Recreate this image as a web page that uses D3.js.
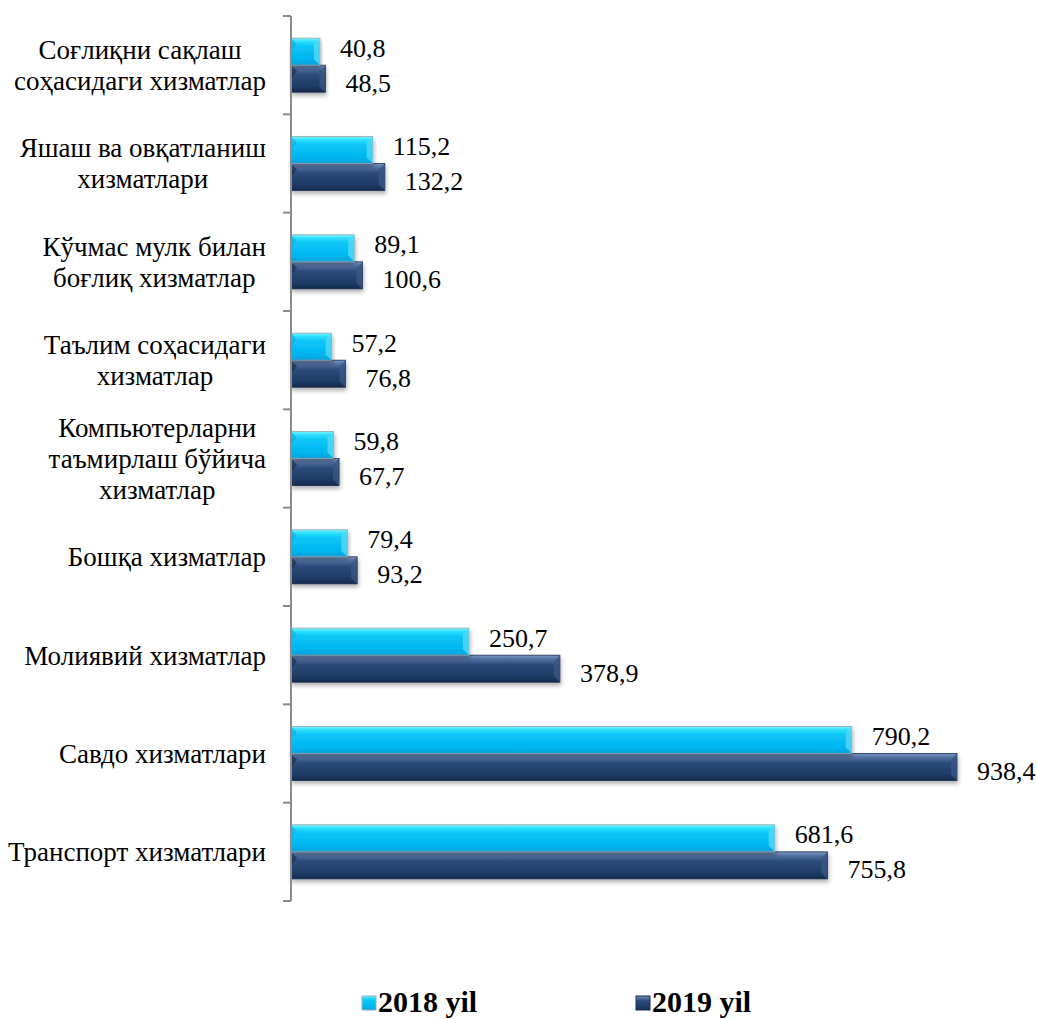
<!DOCTYPE html>
<html><head><meta charset="utf-8">
<script src="https://cdn.jsdelivr.net/npm/d3@7"></script>
<style>body{margin:0;background:#fff}svg{display:block}
.ser{font-family:"Liberation Serif"}
</style>
</head><body>
<svg id="c" width="1037" height="1019"></svg>
<script>
const categories = [
  ["Соғлиқни сақлаш","соҳасидаги хизматлар"],
  ["Яшаш ва овқатланиш","хизматлари"],
  ["Кўчмас мулк билан","боғлиқ хизматлар"],
  ["Таълим соҳасидаги","хизматлар"],
  ["Компьютерларни","таъмирлаш бўйича","хизматлар"],
  ["Бошқа хизматлар"],
  ["Молиявий хизматлар"],
  ["Савдо хизматлари"],
  ["Транспорт хизматлари"]
];
const series = ["2018 yil","2019 yil"];
const values2018 = [40.8,115.2,89.1,57.2,59.8,79.4,250.7,790.2,681.6];
const values2019 = [48.5,132.2,100.6,76.8,67.7,93.2,378.9,938.4,755.8];
const valueLabels2018 = ["40,8","115,2","89,1","57,2","59,8","79,4","250,7","790,2","681,6"];
const valueLabels2019 = ["48,5","132,2","100,6","76,8","67,7","93,2","378,9","938,4","755,8"];

const FONT = "Liberation Serif";
const svg = d3.select("#c");
const defs = svg.append("defs");
function grad(id, stops){
  const g = defs.append("linearGradient").attr("id",id).attr("x1",0).attr("y1",0).attr("x2",0).attr("y2",1);
  stops.forEach(s=>g.append("stop").attr("offset",s[0]).attr("stop-color",s[1]));
}
grad("g18",[[0,"#7ff4ff"],[0.12,"#2fe0ff"],[0.3,"#0cc6f7"],[0.8,"#00b4ef"],[1,"#0a9fd6"]]);
grad("g19",[[0,"#7d97c0"],[0.12,"#5876a6"],[0.35,"#2c4b7a"],[0.8,"#1e3a64"],[1,"#152a4b"]]);
const f = defs.append("filter").attr("id","sh").attr("x","-5%").attr("y","-20%").attr("width","115%").attr("height","160%");
f.append("feDropShadow").attr("dx",1).attr("dy",3).attr("stdDeviation",2).attr("flood-color","#000").attr("flood-opacity",0.3);

const idx = d3.range(categories.length);
const y = d3.scaleBand().domain(idx).range([16, 901]).paddingInner(0.45).paddingOuter(0.225);
const ys = d3.scaleBand().domain(series).range([0, y.bandwidth()]);
const x = d3.scaleLinear().domain([0, 938.4]).range([291, 957]);

const colors = {"2018 yil":"url(#g18)","2019 yil":"url(#g19)"};
const data = [];
idx.forEach(i=>{
  data.push({i, s:series[0], v:values2018[i], lab:valueLabels2018[i]});
  data.push({i, s:series[1], v:values2019[i], lab:valueLabels2019[i]});
});

const barG = svg.append("g");
const order = data.slice().sort((a,b)=> (a.s===series[1]? -1:1) - (b.s===series[1]? -1:1));
order.forEach(d=>{
  const by = y(d.i)+ys(d.s), bh = ys.bandwidth(), bx = x(0), bw = x(d.v)-x(0);
  const g = barG.append("g");
  g.append("rect").attr("x",bx).attr("y",by).attr("width",bw).attr("height",bh)
    .attr("fill",colors[d.s]).attr("filter","url(#sh)")
    .attr("stroke", d.s===series[0] ? "#9aa6b0" : "#1a2f52").attr("stroke-width",0.8);
  const bev = Math.min(6, bw/3);
  g.append("polygon").attr("points",[[bx+bw-bev,by+bev],[bx+bw,by],[bx+bw,by+bh],[bx+bw-bev,by+bh-bev]].map(p=>p.join(",")).join(" "))
    .attr("fill", d.s===series[0] ? "#57d8f5" : "#3a5683").attr("opacity",0.8);
  g.append("polygon").attr("points",[[bx,by],[bx+bev,by+bev],[bx,by+bh/2]].map(p=>p.join(",")).join(" "))
    .attr("fill", d.s===series[0] ? "#14a8dc" : "#142846").attr("opacity",0.6);
});

svg.append("g").selectAll("text").data(data).join("text")
  .attr("class","ser").attr("font-family",FONT).style("font-family",FONT)
  .attr("x", d=> x(d.v) + 20)
  .attr("y", d=> y(d.i)+ys(d.s)+ys.bandwidth()/2 + (d.s===series[0] ? -4 : 4))
  .attr("dy","0.35em")
  .attr("font-size",26).attr("fill","#000")
  .text(d=>d.lab);

const ax = svg.append("g").attr("stroke","#8c8c8c").attr("stroke-width",2);
ax.append("line").attr("x1",x(0)).attr("x2",x(0)).attr("y1",y.range()[0]).attr("y2",y.range()[1]);
d3.range(categories.length+1).forEach(k=>{
  const ty = y.range()[0] + k*y.step();
  ax.append("line").attr("x1",x(0)-8).attr("x2",x(0)).attr("y1",ty).attr("y2",ty);
});

const lh = 31;
idx.forEach(i=>{
  const lines = categories[i];
  const t = svg.append("text").attr("class","ser").attr("font-family",FONT).style("font-family",FONT)
    .attr("font-size",27).attr("fill","#000").attr("text-anchor","middle");
  const cy = y(i)+y.bandwidth()/2;
  lines.forEach((l,k)=>{
    t.append("tspan").attr("x",0).attr("y", cy + (k-(lines.length-1)/2)*lh).attr("dy","0.35em").text(l);
  });
  let maxW = 0;
  t.selectAll("tspan").each(function(){ maxW = Math.max(maxW, this.getComputedTextLength()); });
  const cx = 266 - maxW/2;
  t.selectAll("tspan").attr("x",cx);
});

const leg = svg.append("g");
const legX = [362, 636];
series.forEach((s,k)=>{
  leg.append("rect").attr("x",legX[k]).attr("y",996).attr("width",14).attr("height",14)
    .attr("fill",colors[s]).attr("stroke", k===0?"#8fb0c8":"#1a2f52").attr("stroke-width",1);
  leg.append("text").attr("class","ser").attr("font-family",FONT).style("font-family",FONT)
    .attr("x",legX[k]+16).attr("y",1001).attr("dy","0.35em")
    .attr("font-weight","bold").attr("font-size",30).attr("fill","#000").text(s);
});
</script>
</body></html>
